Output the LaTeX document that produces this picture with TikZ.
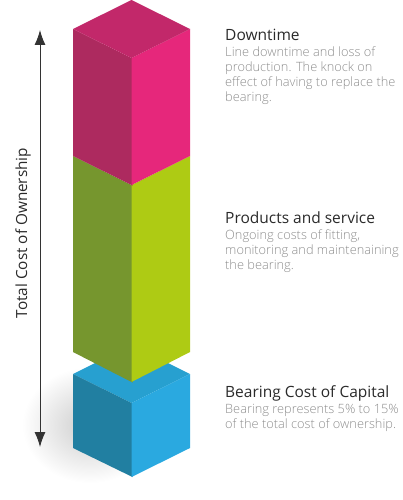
\documentclass[tikz,border=0pt]{standalone}
\usepackage{fontspec}
\setmainfont{Open Sans}
\newfontfamily\lightfont{Open Sans Light}
\usepackage{tikz}
\usetikzlibrary{arrows.meta}

\definecolor{pinktop}{HTML}{C2286A}
\definecolor{pinkleft}{HTML}{AD2A5F}
\definecolor{pinkright}{HTML}{E6277B}
\definecolor{greenleft}{HTML}{76962E}
\definecolor{greenright}{HTML}{AECB14}
\definecolor{bluetop}{HTML}{27A0D0}
\definecolor{blueleft}{HTML}{217FA1}
\definecolor{blueright}{HTML}{2AA9E0}
\definecolor{headgray}{HTML}{2A2A2A}
\definecolor{bodygray}{HTML}{8E8E8E}

\newcommand{\headline}[1]{{\normalfont\fontsize{15.5}{15}\selectfont\color{headgray}#1}}

\begin{document}
\begin{tikzpicture}[
    x=1pt, y=-1pt,
    desc/.style={
        anchor=north west, inner sep=0pt, align=left,
        font=\lightfont\fontsize{12.8}{15}\selectfont, text=bodygray
    },
    axis/.style={{Latex[length=15pt,width=11pt]}-{Latex[length=15pt,width=11pt]}, line width=0.9pt, draw=black!80}
]
\useasboundingbox (0,0) rectangle (403,500);
\shade[inner color=black!20, outer color=white] (90,425) ellipse (68 and 58);
% blue
\fill[bluetop] (73,374) -- (131.5,345) -- (190,374) -- (131.5,403) -- cycle;
\fill[blueleft] (73,374) -- (132.5,403.5) -- (132.5,477) -- (73,448) -- cycle;
\fill[blueright] (131.5,403) -- (190,374) -- (190,448) -- (131.5,477) -- cycle;
% green
\fill[greenleft] (73,156) -- (132.5,185.5) -- (132.5,382.5) -- (73,352) -- cycle;
\fill[greenright] (131.5,185) -- (190,156) -- (190,352) -- (131.5,382) -- cycle;
% pink
\fill[pinkleft] (73,29) -- (132.5,58.5) -- (132.5,185.5) -- (73,156) -- cycle;
\fill[pinkright] (131.5,58) -- (190,29) -- (190,156) -- (131.5,185) -- cycle;
\fill[pinktop] (73,29) -- (131.5,0) -- (190,29) -- (131.5,58) -- cycle;

\coordinate (tcotop) at (40,30);
\coordinate (tcobot) at (40,447);
\draw[axis] (tcobot) -- (tcotop);
\node[rotate=90, font=\fontsize{15.3}{15}\selectfont, text=headgray] (tco) at (23,233) {Total Cost of Ownership};

\node[desc] (downtime) at (225,29) {\headline{Downtime}\\[1pt]
    Line downtime and loss of\\production. The knock on\\effect of having to replace the\\bearing.};
\node[desc] (products) at (225,212) {\headline{Products and service}\\[1pt]
    Ongoing costs of fitting,\\monitoring and maintenaining\\the bearing.};
\node[desc] (bearing) at (225,385) {\headline{Bearing Cost of Capital}\\[1pt]
    Bearing represents 5\% to 15\%\\of the total cost of ownership.};
\end{tikzpicture}
\end{document}
